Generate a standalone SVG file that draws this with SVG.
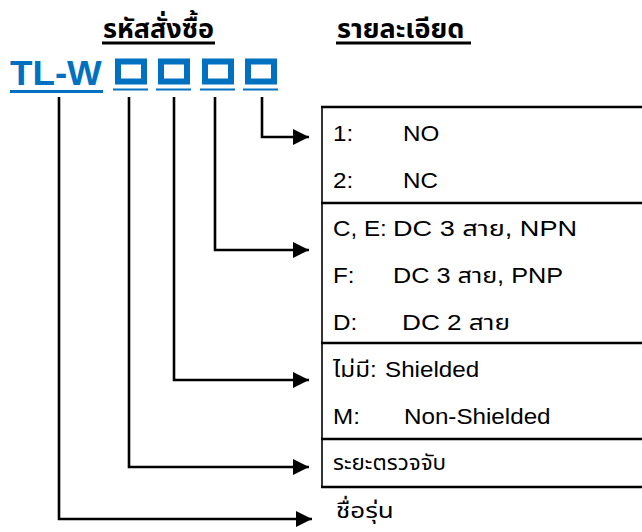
<svg xmlns="http://www.w3.org/2000/svg" width="642" height="532" viewBox="0 0 642 532">
<style>
.h{font-family:"Liberation Sans","Noto Sans Thai","Noto Sans",sans-serif;font-size:27px;font-weight:bold;fill:#000}
.t{font-family:"Liberation Sans","Noto Sans Thai","Noto Sans",sans-serif;font-size:22px;fill:#000}
.code{font-family:"Liberation Sans",Arial,sans-serif;font-size:35px;font-weight:bold;fill:#0070C0}
.box{fill:none;stroke:#0070C0;stroke-width:6}
.ul{stroke:#0070C0;stroke-width:2}
.conn{fill:none;stroke:#000;stroke-width:2.6}
.tl{stroke:#000;stroke-width:2.5}
</style>
<defs>
<marker id="ah" viewBox="0 0 16 16" refX="16" refY="8" markerWidth="16" markerHeight="16" markerUnits="userSpaceOnUse" orient="auto">
<path d="M0,0 L16,8 L0,16 Z" fill="#000"/>
</marker>
</defs>
<g id="header-order">
<text class="h" x="103" y="38">รหัสสั่งซื้อ</text>
<line x1="102" y1="43" x2="215" y2="43" stroke="#000" stroke-width="3"/>
</g>
<g id="header-detail">
<text class="h" x="337" y="38">รายละเอียด</text>
<line x1="336" y1="43" x2="471" y2="43" stroke="#000" stroke-width="3"/>
</g>
<g id="code">
<text class="code" transform="translate(10 85) scale(1.05 1)">TL-W</text>
<line x1="10" y1="91.5" x2="103" y2="91.5" stroke="#0070C0" stroke-width="3"/>
<rect class="box" x="118" y="61.5" width="26" height="20"/>
<rect class="box" x="161" y="61.5" width="26" height="20"/>
<rect class="box" x="205" y="61.5" width="26" height="20"/>
<rect class="box" x="248" y="61.5" width="26" height="20"/>
<line class="ul" x1="113" y1="89.5" x2="148" y2="89.5"/>
<line class="ul" x1="156" y1="89.5" x2="191" y2="89.5"/>
<line class="ul" x1="200" y1="89.5" x2="235" y2="89.5"/>
<line class="ul" x1="243" y1="89.5" x2="278" y2="89.5"/>
</g>
<g id="connectors">
<path class="conn" d="M262,97 V137 H309" marker-end="url(#ah)"/>
<path class="conn" d="M215,97 V250 H309" marker-end="url(#ah)"/>
<path class="conn" d="M174,97 V380 H309" marker-end="url(#ah)"/>
<path class="conn" d="M129,97 V467 H309" marker-end="url(#ah)"/>
<path class="conn" d="M59,97 V519 H312" marker-end="url(#ah)"/>
</g>
<g id="table-lines">
<line x1="322" y1="106" x2="322" y2="488" stroke="#000" stroke-width="1.6"/>
<line class="tl" x1="321" y1="107" x2="642" y2="107"/>
<line class="tl" x1="321" y1="203" x2="642" y2="203"/>
<line class="tl" x1="321" y1="343" x2="642" y2="343"/>
<line class="tl" x1="321" y1="439" x2="642" y2="439"/>
<line class="tl" x1="321" y1="487" x2="642" y2="487"/>
</g>
<g id="output-type">
<text class="t" transform="translate(333 141) scale(1.1 1)">1:</text>
<text class="t" transform="translate(403 141) scale(1.1 1)">NO</text>
<text class="t" transform="translate(333 188) scale(1.1 1)">2:</text>
<text class="t" transform="translate(403 188) scale(1.1 1)">NC</text>
</g>
<g id="supply-type">
<text class="t" transform="translate(333 236) scale(1.1 1)">C, E:</text>
<text class="t" x="393" y="236" textLength="184" lengthAdjust="spacingAndGlyphs">DC 3 สาย, NPN</text>
<text class="t" transform="translate(333 283) scale(1.1 1)">F:</text>
<text class="t" x="393" y="283" textLength="170" lengthAdjust="spacingAndGlyphs">DC 3 สาย, PNP</text>
<text class="t" transform="translate(333 330) scale(1.1 1)">D:</text>
<text class="t" x="402" y="330" textLength="108" lengthAdjust="spacingAndGlyphs">DC 2 สาย</text>
</g>
<g id="shield-type">
<text class="t" transform="translate(333 377) scale(1.1 1)">ไม่มี:</text>
<text class="t" transform="translate(385 377) scale(1.1 1)">Shielded</text>
<text class="t" transform="translate(333 424) scale(1.1 1)">M:</text>
<text class="t" transform="translate(404 424) scale(1.1 1)">Non-Shielded</text>
</g>
<g id="sensing-distance">
<text class="t" transform="translate(333 470) scale(1.02 1)">ระยะตรวจจับ</text>
</g>
<g id="model-name">
<text class="t" transform="translate(336 518) scale(1.18 1)">ชื่อรุ่น</text>
</g>
</svg>
